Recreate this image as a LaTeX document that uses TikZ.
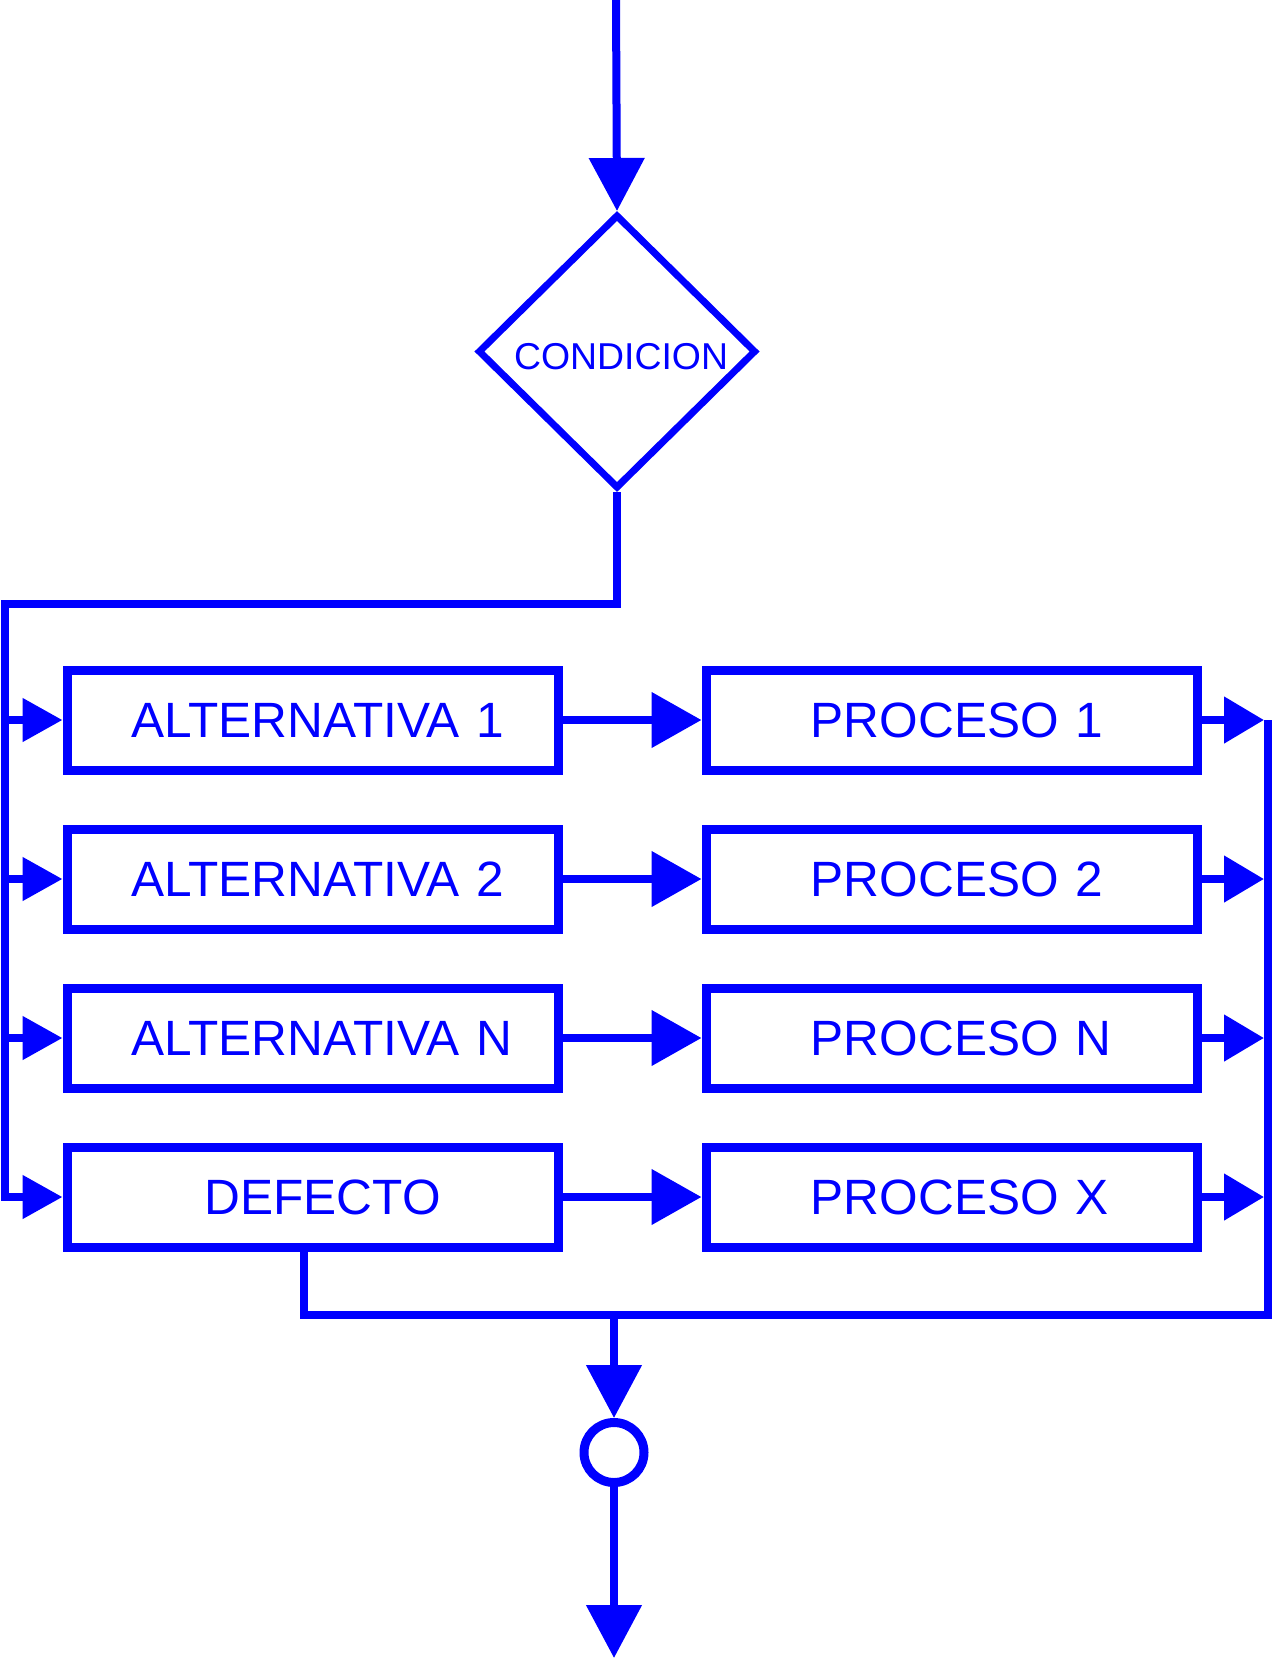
\documentclass[tikz,border=0pt]{standalone}
\usepackage{fontspec}
\setmainfont{Liberation Sans}
\usetikzlibrary{shapes.geometric,arrows.meta,positioning,calc}

\begin{document}
\begin{tikzpicture}[x=0.5pt,y=-0.5pt]
  \tikzset{
    cond/.style={diamond, draw=blue, line width=3.5pt, text=blue, inner sep=0pt,
      minimum width=139pt, minimum height=137pt, text height=17.9pt, text depth=0pt,
      font=\fontsize{18.7}{22}\selectfont},
    block/.style={rectangle, draw=blue, line width=4.5pt, text=blue, inner sep=0pt,
      minimum width=245.5pt, minimum height=50pt, text width=245.5pt, align=left,
      font=\fontsize{24.8}{28}\selectfont, execute at begin node={\hspace*{#1}}},
    joint/.style={circle, draw=blue, line width=4.5pt, minimum size=30pt, inner sep=0pt},
    myline/.style={draw=blue, line width=4pt},
    bigarrow/.style={myline, -{Triangle[length=26.5pt,width=27pt]}},
    midarrow/.style={myline, -{Triangle[length=25pt,width=27pt]}},
    inarrow/.style={myline, -{Triangle[length=20pt,width=21pt]}},
    outarrow/.style={myline, shorten >=2pt, -{Triangle[length=20pt,width=22.5pt]}},
  }
  \useasboundingbox (0,0) rectangle (1273,1660);

  \node[cond] (cond) at (617,351.5) {\hspace*{4pt}CONDICION};
  \node[block=32.3pt] (alt1) at (312.5,720) {ALTERNATIVA 1};
  \node[block=32.3pt] (alt2) [below=25pt of alt1] {ALTERNATIVA 2};
  \node[block=32.3pt] (altn) [below=25pt of alt2] {ALTERNATIVA N};
  \node[block=68.8pt] (def) [below=25pt of altn] {DEFECTO};
  \node[block=52.4pt] (proc1) [right=69.5pt of alt1] {PROCESO 1};
  \node[block=52.4pt] (proc2) [right=69.5pt of alt2] {PROCESO 2};
  \node[block=52.4pt] (procn) [right=69.5pt of altn] {PROCESO N};
  \node[block=52.4pt] (procx) [right=69.5pt of def] {PROCESO X};
  \node[joint] (join) at (614,1452.5) {};

  \coordinate (in) at (616,0);
  \coordinate (split) at (5.3,604);
  \coordinate (rtop) at (1268,720);
  \coordinate (rbot) at (1268,1315);
  \coordinate (out) at (614,1658);

  % entry and branches
  \draw[bigarrow] (in) -- (cond.north);
  \draw[inarrow] (cond.south) |- (split) |- (def.west);
  \draw[inarrow] (split |- alt1.west) -- (alt1.west);
  \draw[inarrow] (split |- alt2.west) -- (alt2.west);
  \draw[inarrow] (split |- altn.west) -- (altn.west);

  \draw[midarrow] (alt1.east) -- (proc1.west);
  \draw[midarrow] (alt2.east) -- (proc2.west);
  \draw[midarrow] (altn.east) -- (procn.west);
  \draw[midarrow] (def.east) -- (procx.west);

  \draw[outarrow] (proc1.east) -- (proc1.east -| rtop);
  \draw[outarrow] (proc2.east) -- (proc2.east -| rtop);
  \draw[outarrow] (procn.east) -- (procn.east -| rtop);
  \draw[outarrow] (procx.east) -- (procx.east -| rtop);

  % merge and exit
  \draw[myline] ($(def.south west)!0.482!(def.south east)$) |- (rbot) -- (rtop);
  \draw[bigarrow] (join |- rbot) -- (join.north);
  \draw[bigarrow] (join.south) -- (out);

\end{tikzpicture}
\end{document}
